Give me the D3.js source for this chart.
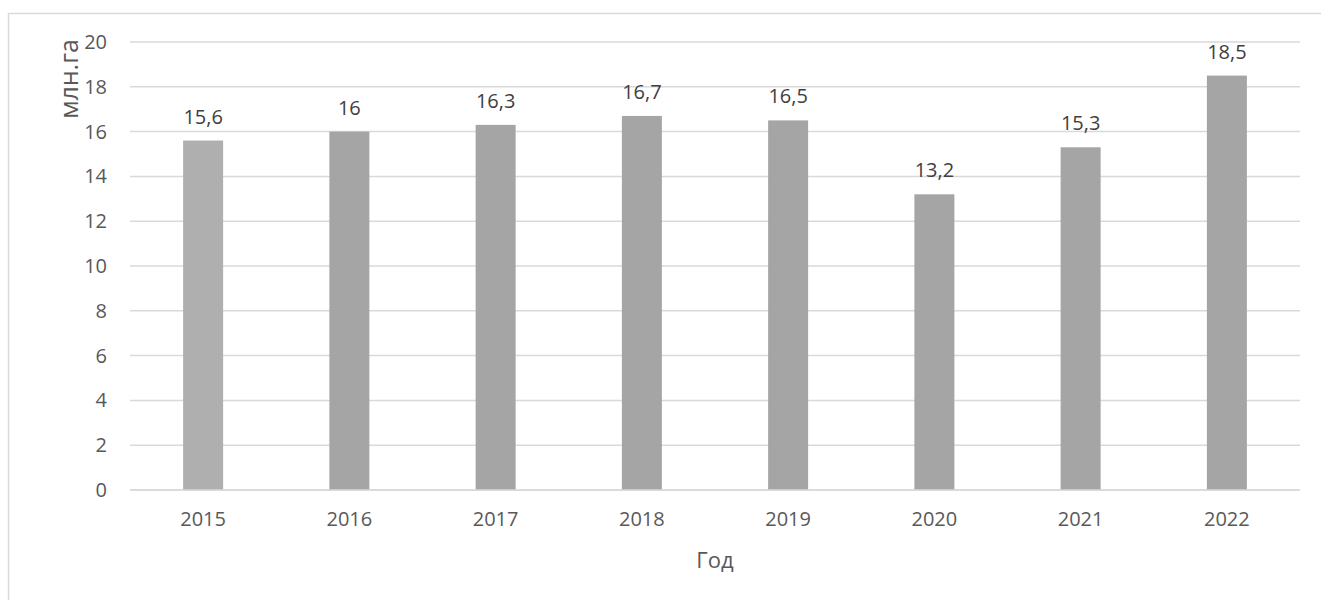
<!DOCTYPE html>
<html><head><meta charset="utf-8">
<script src="https://cdn.jsdelivr.net/npm/d3@7"></script>
<style>body{margin:0;background:#fff;}svg{display:block;font-family:"Open Sans",sans-serif;}</style>
</head><body><svg id="c" width="1321" height="600"></svg>
<script>
const categories = ["2015","2016","2017","2018","2019","2020","2021","2022"];
const values = [15.6,16,16.3,16.7,16.5,13.2,15.3,18.5];
const valueLabels = ["15,6","16","16,3","16,7","16,5","13,2","15,3","18,5"];
const yTicks = [0,2,4,6,8,10,12,14,16,18,20];
const yTitle = "млн.га";
const xTitle = "Год";

(function(){
const svg = d3.select("#c");
const mLeft = 130, mRight = 1300, mTop = 42, mBottom = 490;
const textColor = "#595959";

svg.append("rect").attr("x",8.5).attr("y",13.5).attr("width",1330).attr("height",620)
  .attr("fill","none").attr("stroke","#d9d9d9").attr("stroke-width",1.5);

const x = d3.scaleBand().domain(categories).range([mLeft,mRight]).paddingInner(0).paddingOuter(0);
const y = d3.scaleLinear().domain([0,20]).range([mBottom,mTop]);
const barW = 40;

svg.append("g").selectAll("line").data(yTicks).join("line")
  .attr("x1",mLeft).attr("x2",mRight)
  .attr("y1",d=>y(d)).attr("y2",d=>y(d))
  .attr("stroke","#d9d9d9").attr("stroke-width",1.5);

const yAxis = d3.axisLeft(y).tickValues(yTicks).tickSize(0).tickPadding(0).tickFormat(d=>String(d));
const gy = svg.append("g").attr("transform",`translate(${107},0)`).call(yAxis);
gy.select(".domain").remove();
gy.selectAll("text").attr("fill",textColor).style("font-size","20px").style("font-family","'Open Sans',sans-serif");

svg.append("g").selectAll("rect").data(values).join("rect")
  .attr("x",(d,i)=>x(categories[i])+x.bandwidth()/2-barW/2)
  .attr("width",barW)
  .attr("y",d=>y(d)).attr("height",d=>y(0)-y(d))
  .attr("fill",(d,i)=>i===0?"#afafaf":"#a5a5a5");

svg.append("line").attr("x1",mLeft).attr("x2",mRight).attr("y1",y(0)).attr("y2",y(0))
  .attr("stroke","#d9d9d9").attr("stroke-width",1.5);

svg.append("g").selectAll("text").data(values).join("text")
  .attr("x",(d,i)=>x(categories[i])+x.bandwidth()/2)
  .attr("y",d=>y(d)-17)
  .attr("text-anchor","middle").attr("fill","#404040").style("font-size","20px")
  .text((d,i)=>valueLabels[i]);

const xAxis = d3.axisBottom(x).tickSize(0).tickPadding(0);
const gx = svg.append("g").attr("transform",`translate(0,${y(0)+22})`).call(xAxis);
gx.select(".domain").remove();
gx.selectAll("text").attr("fill",textColor).style("font-size","20px").style("font-family","'Open Sans',sans-serif");

svg.append("text").attr("transform",`translate(78,${79}) rotate(-90)`)
  .attr("text-anchor","middle").attr("fill",textColor).style("font-size","25px").text(yTitle);
svg.append("text").attr("x",(mLeft+mRight)/2).attr("y",568)
  .attr("text-anchor","middle").attr("fill",textColor).style("font-size","22px").text(xTitle);
})();
</script></body></html>
